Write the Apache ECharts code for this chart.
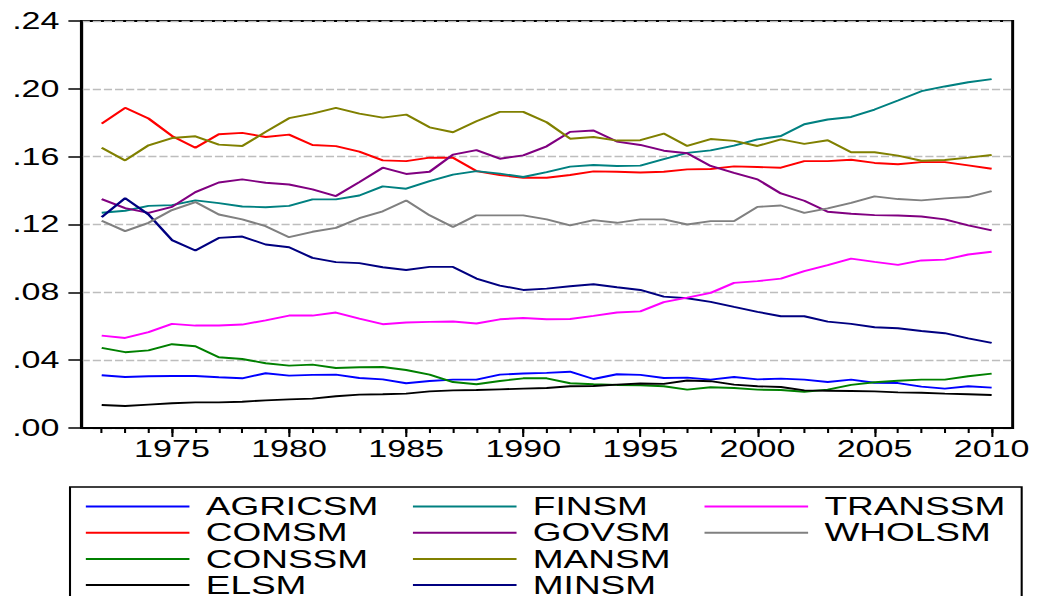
<!DOCTYPE html>
<html>
<head>
<meta charset="utf-8">
<script src="https://cdn.jsdelivr.net/npm/echarts@6/dist/echarts.min.js"></script>
<style>
  html, body { margin: 0; padding: 0; background: #fff; overflow: hidden; }
  #wrap { width: 1039px; height: 596px; overflow: hidden; }
  /* the graph is laid out narrow and widened horizontally, EViews-export style */
  #chart { width: 702px; height: 596px; transform: scaleX(1.48006); transform-origin: 0 0; }
</style>
</head>
<body>
<div id="wrap"><div id="chart"></div></div>
<script>
// Sector shares, 1972-2010
const years = [1972, 1973, 1974, 1975, 1976, 1977, 1978, 1979, 1980, 1981,
  1982, 1983, 1984, 1985, 1986, 1987, 1988, 1989, 1990, 1991,
  1992, 1993, 1994, 1995, 1996, 1997, 1998, 1999, 2000, 2001,
  2002, 2003, 2004, 2005, 2006, 2007, 2008, 2009, 2010];

const AGRICSM = [0.0311, 0.0301, 0.0305, 0.0307, 0.0307, 0.0299, 0.0293, 0.0323, 0.0309, 0.0313,
  0.0315, 0.0295, 0.0287, 0.0264, 0.0277, 0.0285, 0.0285, 0.0315, 0.0321, 0.0325,
  0.0332, 0.0289, 0.0317, 0.0313, 0.0295, 0.0297, 0.0285, 0.0301, 0.0287, 0.0291,
  0.0285, 0.0271, 0.0285, 0.0267, 0.0265, 0.0244, 0.0232, 0.0246, 0.0238];

const COMSM = [0.1795, 0.1888, 0.1825, 0.1722, 0.1653, 0.1732, 0.1740, 0.1716, 0.1730, 0.1669,
  0.1662, 0.1630, 0.1578, 0.1574, 0.1594, 0.1594, 0.1515, 0.1492, 0.1476, 0.1476,
  0.1492, 0.1513, 0.1511, 0.1507, 0.1511, 0.1525, 0.1527, 0.1543, 0.1539, 0.1535,
  0.1574, 0.1574, 0.1582, 0.1563, 0.1555, 0.1568, 0.1568, 0.1549, 0.1529];

const CONSSM = [0.0472, 0.0447, 0.0458, 0.0494, 0.0482, 0.0417, 0.0407, 0.0382, 0.0368, 0.0374,
  0.0354, 0.0358, 0.0360, 0.0342, 0.0315, 0.0271, 0.0258, 0.0277, 0.0293, 0.0293,
  0.0264, 0.0258, 0.0254, 0.0252, 0.0246, 0.0226, 0.0240, 0.0236, 0.0226, 0.0224,
  0.0214, 0.0226, 0.0254, 0.0270, 0.0279, 0.0285, 0.0285, 0.0305, 0.0321];

const ELSM = [0.0136, 0.0130, 0.0138, 0.0146, 0.0151, 0.0151, 0.0155, 0.0163, 0.0169, 0.0173,
  0.0187, 0.0197, 0.0199, 0.0203, 0.0216, 0.0222, 0.0224, 0.0228, 0.0232, 0.0236,
  0.0246, 0.0248, 0.0256, 0.0262, 0.0260, 0.0280, 0.0276, 0.0256, 0.0246, 0.0242,
  0.0222, 0.0220, 0.0218, 0.0216, 0.0210, 0.0208, 0.0203, 0.0199, 0.0195];

const FINSM = [0.1269, 0.1281, 0.1310, 0.1314, 0.1342, 0.1326, 0.1306, 0.1302, 0.1310, 0.1348,
  0.1348, 0.1371, 0.1425, 0.1411, 0.1456, 0.1494, 0.1515, 0.1500, 0.1480, 0.1509,
  0.1541, 0.1551, 0.1545, 0.1547, 0.1586, 0.1622, 0.1637, 0.1665, 0.1702, 0.1722,
  0.1791, 0.1819, 0.1834, 0.1878, 0.1931, 0.1986, 0.2014, 0.2039, 0.2057];

const GOVSM = [0.1350, 0.1297, 0.1269, 0.1304, 0.1391, 0.1448, 0.1466, 0.1446, 0.1436, 0.1407,
  0.1368, 0.1450, 0.1535, 0.1498, 0.1511, 0.1612, 0.1639, 0.1588, 0.1608, 0.1661,
  0.1746, 0.1754, 0.1689, 0.1669, 0.1635, 0.1620, 0.1545, 0.1505, 0.1466, 0.1383,
  0.1340, 0.1275, 0.1263, 0.1255, 0.1253, 0.1247, 0.1230, 0.1195, 0.1165];

const MANSM = [0.1653, 0.1578, 0.1667, 0.1710, 0.1720, 0.1671, 0.1663, 0.1746, 0.1827, 0.1854,
  0.1888, 0.1854, 0.1830, 0.1848, 0.1773, 0.1744, 0.1809, 0.1864, 0.1864, 0.1803,
  0.1706, 0.1716, 0.1695, 0.1697, 0.1736, 0.1663, 0.1704, 0.1693, 0.1663, 0.1702,
  0.1675, 0.1697, 0.1626, 0.1626, 0.1606, 0.1576, 0.1580, 0.1594, 0.1610];

const MINSM = [0.1243, 0.1356, 0.1259, 0.1108, 0.1047, 0.1121, 0.1129, 0.1082, 0.1066, 0.1003,
  0.0978, 0.0972, 0.0948, 0.0932, 0.0950, 0.0950, 0.0881, 0.0840, 0.0814, 0.0822,
  0.0836, 0.0848, 0.0830, 0.0814, 0.0775, 0.0765, 0.0744, 0.0714, 0.0685, 0.0659,
  0.0659, 0.0627, 0.0614, 0.0594, 0.0588, 0.0572, 0.0559, 0.0529, 0.0502];

const TRANSSM = [0.0545, 0.0531, 0.0565, 0.0614, 0.0604, 0.0604, 0.0610, 0.0635, 0.0663, 0.0663,
  0.0681, 0.0645, 0.0612, 0.0622, 0.0626, 0.0628, 0.0616, 0.0641, 0.0649, 0.0641,
  0.0643, 0.0661, 0.0681, 0.0688, 0.0742, 0.0769, 0.0797, 0.0856, 0.0866, 0.0881,
  0.0925, 0.0960, 0.0999, 0.0980, 0.0962, 0.0988, 0.0993, 0.1023, 0.1039];

const WHOLSM = [0.1222, 0.1161, 0.1210, 0.1285, 0.1332, 0.1259, 0.1230, 0.1190, 0.1125, 0.1157,
  0.1180, 0.1237, 0.1278, 0.1342, 0.1254, 0.1185, 0.1254, 0.1254, 0.1254, 0.1230,
  0.1195, 0.1226, 0.1210, 0.1230, 0.1230, 0.1200, 0.1220, 0.1220, 0.1304, 0.1312,
  0.1269, 0.1295, 0.1328, 0.1366, 0.1350, 0.1342, 0.1354, 0.1362, 0.1397];

// Axis ticks
const yMin = 0, yMax = 0.24, yStep = 0.04;
const xLabelYears = [1975, 1980, 1985, 1990, 1995, 2000, 2005, 2010];

const seriesDefs = [
  { name: 'AGRICSM', data: AGRICSM, color: '#0000ff' },
  { name: 'COMSM',   data: COMSM,   color: '#ff0000' },
  { name: 'CONSSM',  data: CONSSM,  color: '#008000' },
  { name: 'ELSM',    data: ELSM,    color: '#000000' },
  { name: 'FINSM',   data: FINSM,   color: '#008080' },
  { name: 'GOVSM',   data: GOVSM,   color: '#800080' },
  { name: 'MANSM',   data: MANSM,   color: '#808000' },
  { name: 'MINSM',   data: MINSM,   color: '#000080' },
  { name: 'TRANSSM', data: TRANSSM, color: '#ff00ff' },
  { name: 'WHOLSM',  data: WHOLSM,  color: '#808080' }
];

const FONT = '"Liberation Sans", Arial, sans-serif';

// one legend block per column of the key
const legendCol = (names, left) => ({
  orient: 'vertical',
  left: left,
  top: 494,
  height: 140,
  padding: 0,
  itemGap: 1.2,
  itemWidth: 70,
  itemHeight: 2,
  icon: 'rect',
  selectedMode: false,
  data: names,
  textStyle: { fontFamily: FONT, fontSize: 25, lineHeight: 20, color: '#000', padding: [0, 0, 0, 6] }
});

const chart = echarts.init(document.getElementById('chart'), null, { renderer: 'svg' });

chart.setOption({
  animation: false,
  backgroundColor: '#fff',
  grid: {
    left: 55.2, right: 17.8, top: 21, bottom: 168,
    show: true, borderColor: '#000', borderWidth: 2, backgroundColor: 'transparent',
    containLabel: false, outerBoundsMode: 'none'
  },
  legend: [
    legendCol(['AGRICSM', 'COMSM', 'CONSSM', 'ELSM'], 58),
    legendCol(['FINSM', 'GOVSM', 'MANSM', 'MINSM'], 279),
    legendCol(['TRANSSM', 'WHOLSM'], 476)
  ],
  graphic: [{
    type: 'rect',
    silent: true,
    shape: { x: 47.3, y: 487, width: 643, height: 150 },
    style: { fill: 'none', stroke: '#000', lineWidth: 1.4 }
  }],
  xAxis: [{
    type: 'value',
    min: 1971.146, max: 2010.897,
    position: 'bottom',
    axisLine: { show: true, lineStyle: { color: '#000', width: 2 } },
    axisTick: { show: true, customValues: xLabelYears, length: 9, lineStyle: { color: '#000', width: 1.4 } },
    axisLabel: {
      customValues: xLabelYears, margin: 10,
      fontFamily: FONT, fontSize: 23, color: '#000',
      formatter: v => String(Math.round(v))
    },
    splitLine: { show: false }
  }, {
    type: 'value',
    min: 1971.146, max: 2010.897,
    position: 'bottom',
    axisLine: { show: false },
    axisTick: { show: true, customValues: years, length: 5, lineStyle: { color: '#000', width: 1.4 } },
    axisLabel: { show: false },
    splitLine: { show: false }
  }],
  yAxis: {
    type: 'value',
    min: yMin, max: yMax, interval: yStep,
    axisLine: { show: true, lineStyle: { color: '#000', width: 2 } },
    axisTick: { show: true, length: 9, lineStyle: { color: '#000', width: 1.5 } },
    axisLabel: {
      margin: 15, fontFamily: FONT, fontSize: 23, color: '#000',
      formatter: v => v.toFixed(2).replace(/^0/, '')
    },
    splitLine: { show: true, lineStyle: { color: '#bdbdbd', width: 1.3, type: [5.5, 2] } }
  },
  series: seriesDefs.map(s => ({
    name: s.name,
    type: 'line',
    xAxisIndex: 0,
    symbol: 'none',
    color: s.color,
    lineStyle: { color: s.color, width: 1.9 },
    data: years.map((yr, i) => [yr, s.data[i]])
  }))
});
</script>
</body>
</html>
